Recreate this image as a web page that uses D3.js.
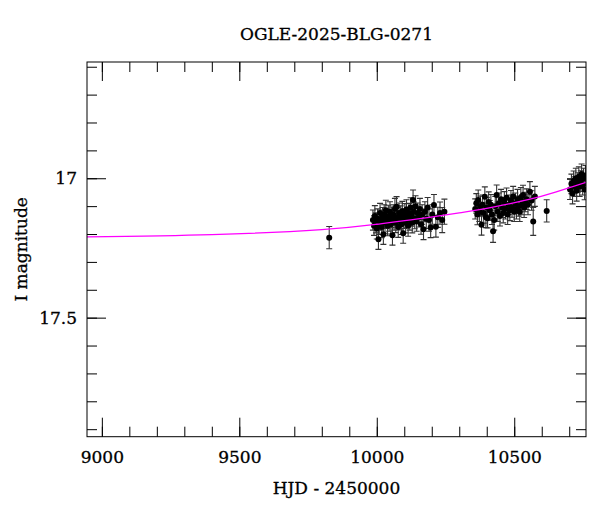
<!DOCTYPE html>
<html>
<head>
<meta charset="utf-8">
<script src="https://cdn.jsdelivr.net/npm/d3@7"></script>
<style>
  html, body { margin: 0; padding: 0; background: #fff; }
  svg { display: block; }
  text { font-family: "DejaVu Serif", serif; fill: #000; stroke: #000; stroke-width: 0.3px; }
</style>
</head>
<body>
<div id="chart"></div>
<script>
// ---- data (HJD-2450000, I mag, error) ----
const titleText = "OGLE-2025-BLG-0271";
const xLabel = "HJD - 2450000";
const yLabel = "I magnitude";
const xMajorTicks = [9000, 9500, 10000, 10500];
const yMajorTicks = [17, 17.5];
const yTickLabels = ["17", "17.5"];

const season0 = [[9827, 17.213, 0.040]];

const season1 = [
  [9986,17.150,0.036],[9990,17.170,0.035],[9993,17.135,0.037],[9997,17.160,0.036],
  [10000,17.180,0.038],[10003,17.145,0.035],[10006,17.219,0.036],[10009,17.165,0.037],
  [10012,17.125,0.035],[10015,17.150,0.036],[10018,17.175,0.038],[10021,17.140,0.035],
  [10024,17.201,0.036],[10027,17.130,0.035],[10030,17.160,0.037],[10033,17.115,0.036],
  [10036,17.145,0.035],[10039,17.170,0.036],[10042,17.135,0.038],[10045,17.155,0.035],
  [10048,17.120,0.036],[10051,17.165,0.035],[10054,17.140,0.037],[10057,17.204,0.036],
  [10060,17.130,0.035],[10063,17.150,0.036],[10066,17.110,0.038],[10069,17.160,0.035],
  [10072,17.102,0.036],[10075,17.140,0.035],[10078,17.175,0.037],[10081,17.125,0.036],
  [10084,17.150,0.035],[10087,17.135,0.036],[10090,17.165,0.037],[10093,17.118,0.035],
  [10096,17.197,0.036],[10099,17.145,0.035],[10102,17.128,0.037],[10105,17.160,0.036],
  [10108,17.112,0.035],[10111,17.140,0.036],[10114,17.170,0.038],[10117,17.125,0.035],
  [10120,17.150,0.036],[10123,17.105,0.035],[10126,17.135,0.037],[10129,17.160,0.036],
  [10132,17.078,0.036],[10135,17.120,0.035],[10138,17.145,0.036],[10141,17.100,0.037],
  [10145,17.155,0.035],[10149,17.125,0.036],[10153,17.140,0.035],[10157,17.110,0.038],
  [10161,17.165,0.036],[10165,17.130,0.035],[10170,17.183,0.037],[10175,17.120,0.036],
  [10180,17.145,0.035],[10185,17.105,0.036],[10190,17.150,0.040],[10196,17.177,0.036],
  [10202,17.130,0.035],[10208,17.096,0.038],[10215,17.174,0.037],[10222,17.140,0.036],
  [10230,17.125,0.040],[10238,17.150,0.045],[10246,17.120,0.045]
];

const season2 = [
  [10358,17.110,0.036],[10362,17.090,0.035],[10366,17.130,0.037],[10369,17.078,0.036],
  [10373,17.120,0.035],[10377,17.100,0.036],[10381,17.167,0.037],[10385,17.095,0.035],
  [10389,17.125,0.036],[10393,17.066,0.035],[10397,17.140,0.037],[10400,17.105,0.036],
  [10403,17.143,0.035],[10407,17.085,0.036],[10411,17.115,0.035],[10415,17.095,0.037],
  [10419,17.130,0.036],[10423,17.190,0.040],[10427,17.150,0.036],[10431,17.100,0.035],
  [10436,17.060,0.036],[10440,17.120,0.035],[10444,17.090,0.037],[10448,17.135,0.036],
  [10452,17.075,0.035],[10456,17.105,0.036],[10460,17.125,0.035],[10464,17.085,0.037],
  [10468,17.110,0.036],[10472,17.070,0.035],[10476,17.130,0.036],[10480,17.095,0.035],
  [10484,17.115,0.037],[10488,17.080,0.036],[10492,17.105,0.035],[10496,17.065,0.036],
  [10500,17.120,0.035],[10504,17.090,0.037],[10508,17.110,0.036],[10512,17.075,0.035],
  [10516,17.100,0.036],[10520,17.120,0.035],[10524,17.070,0.037],[10528,17.095,0.036],
  [10532,17.060,0.035],[10536,17.105,0.036],[10540,17.085,0.035],[10545,17.075,0.037],
  [10550,17.095,0.036],[10557,17.048,0.036],[10563,17.080,0.035],[10569,17.155,0.050],
  [10575,17.065,0.036],[10618,17.117,0.040]
];

const season3 = [
  [10703,17.040,0.036],[10708,17.020,0.035],[10712,17.055,0.037],[10716,17.010,0.036],
  [10720,17.030,0.035],[10724,17.000,0.036],[10727,17.045,0.037],[10731,17.015,0.035],
  [10735,16.995,0.036],[10738,17.030,0.035],[10742,17.010,0.037],[10745,16.985,0.036],
  [10749,17.025,0.035],[10752,17.000,0.036],[10756,17.040,0.037],[10759,16.990,0.036]
];

// model curve points
const modelTime = [8946, 9400, 9800, 10000, 10150, 10300, 10400, 10550, 10650, 10763];
const modelMag  = [17.210, 17.202, 17.184, 17.165, 17.146, 17.124, 17.108, 17.077, 17.050, 17.014];

// ---- chart ----
const W = 600, H = 512;
const L = 87, R = 586, T = 62, B = 436.7;

const svg = d3.select("#chart").append("svg").attr("width", W).attr("height", H);

const x = d3.scaleLinear().domain([8946, 10761]).range([L, R]);
const y = d3.scaleLinear().domain([16.583, 17.927]).range([T, B]);

const xMinor = d3.range(9000, 10761, 100);
const yMinor = d3.range(16.6, 17.93, 0.1).map(v => +v.toFixed(1));

const axG = svg.append("g").attr("class", "axes");
function styleAxis(g) {
  g.select(".domain").remove();
  g.selectAll("line").attr("stroke", "#000").attr("stroke-width", 1);
  g.selectAll("text").attr("font-size", 17).attr("font-family", "DejaVu Serif");
}

// bottom
axG.append("g").attr("transform", `translate(0,${B})`)
  .call(d3.axisBottom(x).tickValues(xMinor).tickSize(-10).tickFormat("")).call(styleAxis);
axG.append("g").attr("transform", `translate(0,${B})`)
  .call(d3.axisBottom(x).tickValues(xMajorTicks).tickSize(-19).tickPadding(14).tickFormat(d3.format("d"))).call(styleAxis);
// top
axG.append("g").attr("transform", `translate(0,${T})`)
  .call(d3.axisTop(x).tickValues(xMinor).tickSize(-10).tickFormat("")).call(styleAxis);
axG.append("g").attr("transform", `translate(0,${T})`)
  .call(d3.axisTop(x).tickValues(xMajorTicks).tickSize(-19).tickFormat("")).call(styleAxis);
// left
axG.append("g").attr("transform", `translate(${L},0)`)
  .call(d3.axisLeft(y).tickValues(yMinor).tickSize(-10).tickFormat("")).call(styleAxis);
axG.append("g").attr("transform", `translate(${L},0)`)
  .call(d3.axisLeft(y).tickValues(yMajorTicks).tickSize(-19).tickPadding(10)
    .tickFormat((d, i) => yTickLabels[i])).call(styleAxis);
// right
axG.append("g").attr("transform", `translate(${R},0)`)
  .call(d3.axisRight(y).tickValues(yMinor).tickSize(-10).tickFormat("")).call(styleAxis);
axG.append("g").attr("transform", `translate(${R},0)`)
  .call(d3.axisRight(y).tickValues(yMajorTicks).tickSize(-19).tickFormat("")).call(styleAxis);

// clip
svg.append("clipPath").attr("id", "clip")
  .append("rect").attr("x", L).attr("y", T).attr("width", R - L).attr("height", B - T);

const plot = svg.append("g").attr("clip-path", "url(#clip)");
const allPts = [].concat(season0, season1, season2, season3);

const eb = plot.append("g").attr("stroke", "#333").attr("stroke-width", 1.1);
allPts.forEach(d => {
  const cx = x(d[0]), y1 = y(d[1] - d[2]), y2 = y(d[1] + d[2]);
  eb.append("line").attr("x1", cx).attr("x2", cx).attr("y1", y1).attr("y2", y2);
  eb.append("line").attr("x1", cx - 3).attr("x2", cx + 3).attr("y1", y1).attr("y2", y1);
  eb.append("line").attr("x1", cx - 3).attr("x2", cx + 3).attr("y1", y2).attr("y2", y2);
});

plot.append("g").selectAll("circle").data(allPts).join("circle")
  .attr("cx", d => x(d[0])).attr("cy", d => y(d[1])).attr("r", 3).attr("fill", "#000");

const model = modelTime.map((t, i) => [t, modelMag[i]]);
plot.append("path").datum(model)
  .attr("fill", "none").attr("stroke", "#ff00ff").attr("stroke-width", 1.3)
  .attr("d", d3.line().x(d => x(d[0])).y(d => y(d[1])).curve(d3.curveNatural));

// frame
svg.append("rect").attr("x", L).attr("y", T).attr("width", R - L).attr("height", B - T)
  .attr("fill", "none").attr("stroke", "#000").attr("stroke-width", 1);

// title & labels
svg.append("text").attr("x", (L + R) / 2).attr("y", 40).attr("text-anchor", "middle")
  .attr("font-size", 17).text(titleText);
svg.append("text").attr("x", (L + R) / 2).attr("y", 494).attr("text-anchor", "middle")
  .attr("font-size", 17).text(xLabel);
svg.append("text").attr("transform", `translate(27,${(T + B) / 2}) rotate(-90)`)
  .attr("text-anchor", "middle").attr("font-size", 17).text(yLabel);
</script>
</body>
</html>
